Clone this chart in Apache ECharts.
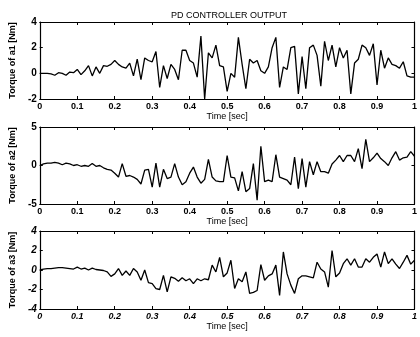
<!DOCTYPE html>
<html>
<head>
<meta charset="utf-8">
<script src="https://cdn.jsdelivr.net/npm/echarts@6/dist/echarts.min.js"></script>
<style>html,body{margin:0;padding:0;background:#fff}#c{width:420px;height:337px}</style>
</head>
<body>
<div id="c"></div>
<script>
const title = 'PD CONTROLLER OUTPUT';
const xName = 'Time [sec]';
const yNames = ['Torque of a1 [Nm]', 'Torque of a2 [Nm]', 'Torque of a3 [Nm]'];
const xTicks = [0, 0.1, 0.2, 0.3, 0.4, 0.5, 0.6, 0.7, 0.8, 0.9, 1];
const yRanges = [[-2, 4, 2], [-5, 5, 5], [-4, 4, 2]];

const time = [0.00,0.01,0.02,0.03,0.04,0.05,0.06,0.07,0.08,0.09,
0.10,0.11,0.12,0.13,0.14,0.15,0.16,0.17,0.18,0.19,
0.20,0.21,0.22,0.23,0.24,0.25,0.26,0.27,0.28,0.29,
0.30,0.31,0.32,0.33,0.34,0.35,0.36,0.37,0.38,0.39,
0.40,0.41,0.42,0.43,0.44,0.45,0.46,0.47,0.48,0.49,
0.50,0.51,0.52,0.53,0.54,0.55,0.56,0.57,0.58,0.59,
0.60,0.61,0.62,0.63,0.64,0.65,0.66,0.67,0.68,0.69,
0.70,0.71,0.72,0.73,0.74,0.75,0.76,0.77,0.78,0.79,
0.80,0.81,0.82,0.83,0.84,0.85,0.86,0.87,0.88,0.89,
0.90,0.91,0.92,0.93,0.94,0.95,0.96,0.97,0.98,0.99,1.00];

const a1 = [0.0,0.0,0.0,-0.05,-0.15,0.05,0.0,-0.15,0.1,0.05,
0.3,-0.1,0.2,0.6,-0.2,0.5,0.0,0.6,0.55,0.7,
1.0,0.7,0.5,0.4,0.8,-0.2,1.1,-0.5,1.2,1.0,
0.9,1.7,-1.1,0.6,-0.4,0.7,0.3,-0.5,1.8,1.8,
1.0,0.8,-0.3,2.9,-2.0,1.6,1.2,2.2,0.6,0.5,
-1.4,0.0,-0.3,2.8,0.7,-1.2,1.1,0.8,1.0,0.2,
0.0,0.5,2.0,2.8,-1.1,0.5,0.3,2.0,2.1,-1.6,
1.3,-1.2,2.0,2.2,1.4,-1.0,2.5,1.0,2.2,0.5,
2.0,1.2,1.8,-1.6,0.8,1.1,2.2,2.0,1.4,2.3,
-0.9,1.8,0.4,1.2,0.7,0.6,0.4,0.9,-0.2,-0.3,-0.3];

const a2 = [0.0,0.2,0.3,0.3,0.4,0.3,0.1,0.3,0.2,0.0,
0.1,-0.1,0.0,-0.1,0.25,-0.1,0.0,-0.3,-0.5,-0.6,
-1.0,-1.5,0.25,-1.4,-1.3,-1.5,-1.8,-2.4,-0.6,-0.5,
-2.8,0.3,-2.8,-0.5,-1.7,-1.5,0.25,-1.5,-2.5,-2.1,
-1.0,-0.2,-1.5,-2.3,-1.8,0.8,-1.5,-2.0,-2.1,-2.1,
1.3,-1.5,-1.6,-3.3,-0.8,-3.4,-3.0,0.25,-4.5,2.5,
-2.1,-1.9,-2.1,1.4,-1.5,-1.7,-1.9,-2.5,1.1,-3.0,
0.9,-2.8,0.5,-1.2,0.5,-0.8,-0.8,-1.0,0.2,0.7,
1.3,0.5,1.3,1.3,0.5,2.2,-0.4,3.4,0.5,1.0,
1.6,0.9,0.5,0.0,1.0,1.8,0.7,1.0,1.1,1.8,1.2];

const a3 = [0.0,0.1,0.15,0.15,0.2,0.25,0.25,0.2,0.15,0.1,
0.3,0.1,0.2,0.0,0.2,0.05,0.0,-0.05,-0.2,-0.65,
-0.4,0.15,-0.55,-0.1,-0.55,0.15,-0.2,-1.05,0.0,-1.3,
-1.4,-1.9,-2.0,-0.55,-2.25,-0.7,-0.85,-1.15,-0.8,-1.1,
-0.9,-1.4,-0.9,-1.1,-0.9,-1.0,0.5,-0.2,1.3,-0.7,
-0.3,1.0,-1.9,-0.9,-1.2,-0.2,-2.4,-2.3,-2.1,0.55,
-1.05,-0.6,-0.4,0.5,-2.6,1.85,-0.4,-1.55,-2.4,-0.9,
-0.6,-0.6,-0.7,-0.8,0.8,0.1,-0.2,-1.75,2.0,-0.7,
-0.3,0.65,1.15,0.5,1.15,0.3,0.3,1.15,0.8,1.3,
1.65,0.3,1.85,0.65,1.15,0.6,0.15,0.8,1.5,0.6,1.0];

const seriesData = [a1, a2, a3];
const grids = [
  {left: 31, right: 2, top: 22, height: 77},
  {left: 31, right: 2, top: 127, height: 77},
  {left: 31, right: 2, top: 231, height: 78}
];
const FONT = 'Liberation Sans, Arial, sans-serif';

const xAxes = [], yAxes = [], series = [];
for (let i = 0; i < 3; i++) {
  const italic = i === 2 ? 'italic' : 'normal';
  xAxes.push({
    type: 'value', gridIndex: i, min: 0, max: 1, interval: 0.1,
    name: xName, nameLocation: 'middle', nameGap: 13,
    nameTextStyle: {color: '#000', fontSize: 9, fontFamily: FONT, fontWeight: 'normal'},
    axisLine: {show: true, onZero: false, lineStyle: {color: '#000', width: 1.2}},
    axisTick: {show: true, inside: true, length: 3, lineStyle: {color: '#000'}},
    axisLabel: {color: '#000', fontSize: 9, fontFamily: FONT, fontWeight: 'bold', fontStyle: italic, margin: 3,
      formatter: v => (Math.abs(v) < 1e-9 ? '0' : (Math.abs(v - 1) < 1e-9 ? '1' : v.toFixed(1)))},
    splitLine: {show: false}
  });
  xAxes.push({
    type: 'value', gridIndex: i, min: 0, max: 1, interval: 0.1, position: 'top',
    axisLine: {show: true, onZero: false, lineStyle: {color: '#000', width: 1.2}},
    axisTick: {show: true, inside: true, length: 3, lineStyle: {color: '#000'}},
    axisLabel: {show: false}, splitLine: {show: false}
  });
  const r = yRanges[i];
  yAxes.push({
    type: 'value', gridIndex: i, min: r[0], max: r[1], interval: r[2],
    name: yNames[i], nameLocation: 'middle', nameGap: 15, nameRotate: 90,
    nameTextStyle: {color: '#000', fontSize: 9, fontFamily: FONT, fontWeight: 'bold'},
    axisLine: {show: true, onZero: false, lineStyle: {color: '#000', width: 1.2}},
    axisTick: {show: true, inside: true, length: 3, lineStyle: {color: '#000'}},
    axisLabel: {color: '#000', fontSize: 10, fontFamily: FONT, fontWeight: 'bold', fontStyle: italic, margin: 3},
    splitLine: {show: false}
  });
  yAxes.push({
    type: 'value', gridIndex: i, min: r[0], max: r[1], interval: r[2], position: 'right',
    axisLine: {show: true, onZero: false, lineStyle: {color: '#000', width: 1.2}},
    axisTick: {show: true, inside: true, length: 3, lineStyle: {color: '#000'}},
    axisLabel: {show: false}, splitLine: {show: false}
  });
  series.push({
    type: 'line', xAxisIndex: 2 * i, yAxisIndex: 2 * i,
    data: time.map((t, k) => [t, seriesData[i][k]]),
    showSymbol: false, symbol: 'none', animation: false,
    lineStyle: {color: '#000', width: 1.3}
  });
}

const chart = echarts.init(document.getElementById('c'));
chart.setOption({
  backgroundColor: '#fff',
  animation: false,
  title: {text: title, left: 224, textAlign: 'center', top: 6,
    textStyle: {fontSize: 9, fontWeight: 'normal', color: '#000', fontFamily: FONT}},
  grid: grids,
  xAxis: xAxes,
  yAxis: yAxes,
  series: series
});
</script>
</body>
</html>
